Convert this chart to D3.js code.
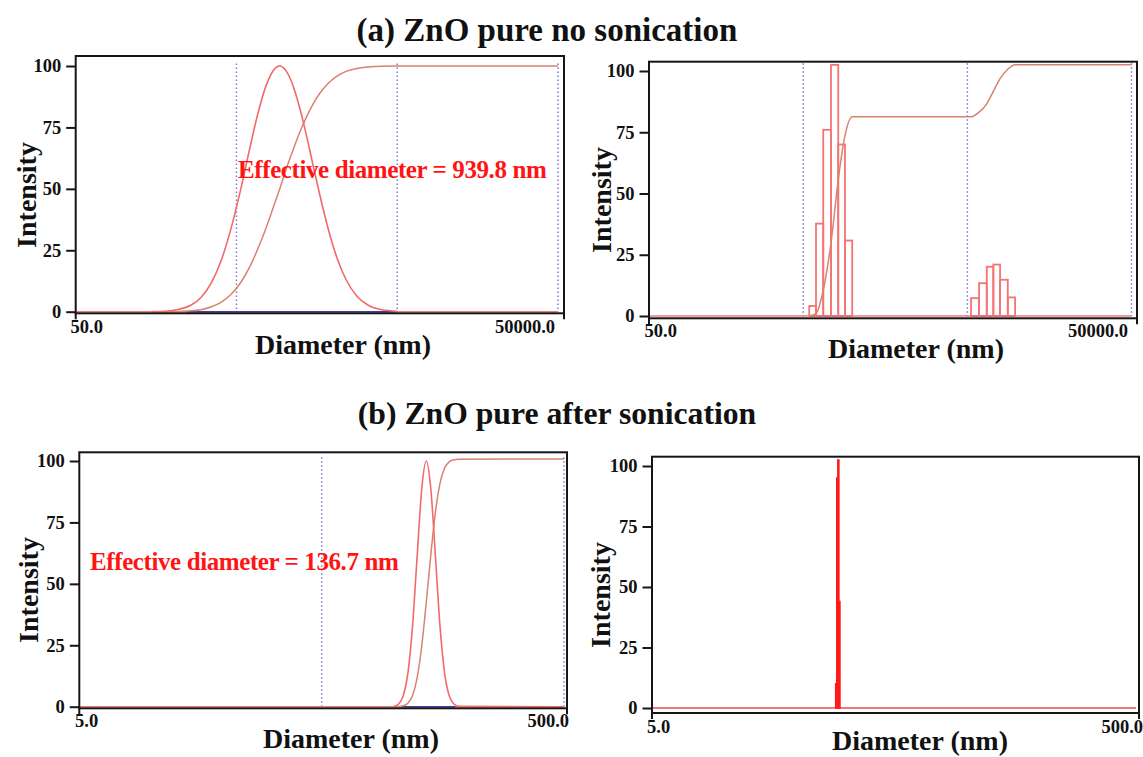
<!DOCTYPE html>
<html>
<head>
<meta charset="utf-8">
<script src="https://cdn.jsdelivr.net/npm/d3@7"></script>
<style>
  body { margin: 0; background: #fff; }
  svg text { font-family: "Liberation Serif", "Times New Roman", serif; font-weight: bold; }
</style>
</head>
<body>
<svg id="chart" width="1143" height="757"></svg>
<script>
// ---------------- data ----------------
const sectionTitles = ["(a) ZnO pure no sonication", "(b) ZnO pure after sonication"];
const yTickValues = [0, 25, 50, 75, 100];
const yAxisTitle = "Intensity";
const xAxisTitle = "Diameter (nm)";

// (a) left: intensity distribution and cumulative curve, diameter in nm
const aDomain = [50, 50000];
const aTickLabels = ["50.0", "50000.0"];
const aMarkers = [500, 5000, 50000];
const aDistDiameters = [150, 180, 220, 260, 300, 350, 400, 460, 530, 600, 680, 760, 850, 930, 1020, 1120, 1230, 1350, 1500, 1650, 1850, 2100, 2400, 2800, 3300, 4000, 5000];
const aDistIntensity = [0.1, 0.2, 1.0, 2.6, 5.7, 11.9, 20.5, 33.3, 49.5, 65.4, 80.7, 91.6, 98.3, 100, 97.9, 92.3, 83.5, 72.9, 59.4, 47.5, 34.3, 22.3, 13.1, 6.4, 2.6, 0.8, 0.2];
const aCumDiameters = [150, 200, 250, 300, 350, 400, 460, 530, 600, 680, 760, 850, 930, 1020, 1120, 1230, 1350, 1500, 1650, 1850, 2100, 2400, 2800, 3300, 4000, 5000, 50000];
const aCumulative = [0, 0.1, 0.3, 0.8, 2.0, 3.8, 6.9, 11.8, 17.8, 25.7, 33.7, 42.7, 50, 58.1, 65.5, 72.6, 78.7, 84.6, 88.9, 92.8, 95.8, 97.8, 99.0, 99.6, 99.9, 100, 100];
const aFitRange = [243, 4890];
const aEffectiveDiameter = 939.8;

// (a) right: binned intensity histogram with cumulative curve
const aBinEdgesLow = [544, 598, 662, 738, 817, 898, 994];
const aBinHeightsLow = [4.1, 37.7, 76, 102.5, 70, 30.8];
const aBinEdgesHigh = [5266, 5892, 6565, 7200, 7912, 8815, 9765];
const aBinHeightsHigh = [7.3, 13.4, 20.1, 21, 14.8, 7.6];
const aHistCumDiameters = [544, 598, 662, 738, 817, 898, 994, 5266, 5892, 6565, 7200, 7912, 8815, 9765, 50000];
const aHistCumulative = [0, 1.0, 10.5, 29.8, 55.6, 73.6, 81.3, 81.3, 83.2, 86.6, 91.7, 96.9, 100.7, 102.6, 102.6];

// (b) left: intensity distribution and cumulative curve
const bDomain = [5, 500];
const bTickLabels = ["5.0", "500.0"];
const bMarkers = [50, 500];
const bDiameters = [99.4, 103.9, 108.5, 113.4, 118.5, 123.8, 129.3, 135.1, 141.2, 147.5, 154.0, 160.9, 168.1, 175.6, 183.4, 500];
const bDistIntensity = [0.2, 1.1, 4.4, 13.5, 32.5, 60.7, 88.2, 100, 88.2, 60.7, 32.5, 13.5, 4.4, 1.1, 0.2, 0];
const bCumulative = [0, 0.07, 0.35, 1.4, 4.5, 11.6, 24.4, 42.4, 62.3, 79.4, 91.0, 97.2, 99.7, 100.5, 100.75, 100.8];
const bFitRange = [106, 178];
const bEffectiveDiameter = 136.7;

// (b) right: binned histogram (single narrow population)
const bBinEdges = [28.7, 29.0, 29.3, 29.6, 29.9];
const bBinHeights = [10, 95, 102.5, 44];

// ---------------- layout ----------------
const layouts = {
  aLeft:  { id: "aL", frame: { l: 75.7, r: 564, t: 56 },   xRange: [75.7, 558],    yZero: 311.7, yFull: 66,  axisOff: 1.6, markerTop: 101,
            yTitle: [36, 195],  xTitle: [343, 354], tickStartX: 70.5, tickEndDx: -3,  tickY: 333 },
  aRight: { id: "aR", frame: { l: 649, r: 1137, t: 61.7 }, xRange: [639.1, 1131.5], yZero: 316, yFull: 71,   axisOff: 2.3, markerTop: 103.2,
            yTitle: [611, 200], xTitle: [916, 358], tickStartX: 644.5, tickEndDx: -3.5, tickY: 337 },
  bLeft:  { id: "bL", frame: { l: 79.3, r: 567, t: 452.3 }, xRange: [79.3, 564],  yZero: 706.7, yFull: 461, axisOff: 1.6, markerTop: 101.5,
            yTitle: [38, 590],  xTitle: [351, 748], tickStartX: 75, tickEndDx: 5,    tickY: 727 },
  bRight: { id: "bR", frame: { l: 652, r: 1139, t: 456.7 }, xRange: [652, 1136],  yZero: 708, yFull: 466,   axisOff: 5, markerTop: 103,
            yTitle: [610, 595], xTitle: [920, 750], tickStartX: 647, tickEndDx: 7,    tickY: 733 }
};

const colors = {
  dist: "#f46868", cum: "#d9826f", base: "#f27878", fit: "#3a3db0",
  marker: "#7878d8", bars: "#f47474", spike: "#ff1a1a", label: "#ff1414", ink: "#161616"
};

const svg = d3.select("#chart");

// ---------------- helpers ----------------
function makePanel(L, domain) {
  const x = d3.scaleLog().domain(domain).range(L.xRange);
  const y = d3.scaleLinear().domain([0, 100]).range([L.yZero, L.yFull]);
  const clipId = "clip-" + L.id;
  svg.append("clipPath").attr("id", clipId).append("rect")
    .attr("x", L.frame.l).attr("y", L.frame.t)
    .attr("width", L.frame.r - L.frame.l)
    .attr("height", L.yZero + L.axisOff - L.frame.t);
  const g = svg.append("g");
  const plot = g.append("g").attr("clip-path", `url(#${clipId})`);
  return { g, plot, x, y, domain };
}

function drawMarkers(P, L, values) {
  P.plot.selectAll(null).data(values).enter().append("line")
    .attr("x1", d => P.x(d)).attr("x2", d => P.x(d))
    .attr("y1", P.y(L.markerTop)).attr("y2", P.y(0))
    .attr("stroke", colors.marker).attr("stroke-width", 1.5)
    .attr("stroke-dasharray", "1.5,2.5");
}

function drawBaseline(P, color, range, width) {
  P.plot.append("line")
    .attr("x1", P.x(range[0])).attr("x2", P.x(range[1]))
    .attr("y1", P.y(0)).attr("y2", P.y(0))
    .attr("stroke", color).attr("stroke-width", width);
}

function drawCurve(P, xs, ys, color, width) {
  const line = d3.line().x(d => P.x(d[0])).y(d => P.y(d[1])).curve(d3.curveMonotoneX);
  P.plot.append("path").datum(d3.zip(xs, ys))
    .attr("d", line).attr("fill", "none")
    .attr("stroke", color).attr("stroke-width", width).attr("stroke-linejoin", "round");
}

function drawBars(P, edges, heights, color, fill, width) {
  P.plot.selectAll(null).data(heights).enter().append("rect")
    .attr("x", (d, i) => P.x(edges[i]))
    .attr("width", (d, i) => P.x(edges[i + 1]) - P.x(edges[i]))
    .attr("y", d => P.y(d))
    .attr("height", d => P.y(0) - P.y(d))
    .attr("fill", fill).attr("stroke", color).attr("stroke-width", width);
}

function drawAxes(P, L, tickLabels) {
  const axisY = L.yZero + L.axisOff;
  // frame
  P.g.append("rect")
    .attr("x", L.frame.l).attr("y", L.frame.t)
    .attr("width", L.frame.r - L.frame.l).attr("height", axisY - L.frame.t)
    .attr("fill", "none").attr("stroke", colors.ink).attr("stroke-width", 2);
  // end ticks below the diameter axis
  [L.frame.l, L.frame.r].forEach(xp => {
    P.g.append("line").attr("x1", xp).attr("x2", xp).attr("y1", axisY).attr("y2", axisY + 6)
      .attr("stroke", colors.ink).attr("stroke-width", 2);
  });
  // intensity axis
  const ax = d3.axisLeft(P.y).tickValues(yTickValues).tickSize(9.5).tickPadding(5).tickFormat(d3.format("d"));
  const ga = P.g.append("g").attr("transform", `translate(${L.frame.l},0)`).call(ax);
  ga.select(".domain").remove();
  ga.selectAll(".tick line").attr("stroke", colors.ink).attr("stroke-width", 2);
  ga.selectAll(".tick text")
    .attr("font-family", '"Liberation Serif","Times New Roman",serif')
    .attr("font-weight", "bold").attr("font-size", 18.5).attr("fill", "#111");
  // diameter axis end labels
  P.g.append("text").attr("x", L.tickStartX).attr("y", L.tickY)
    .attr("font-size", 18.5).attr("fill", "#111").text(tickLabels[0]);
  P.g.append("text").attr("x", P.x(P.domain[1]) + L.tickEndDx).attr("y", L.tickY)
    .attr("text-anchor", "end").attr("font-size", 18.5).attr("fill", "#111").text(tickLabels[1]);
  // axis titles
  P.g.append("text")
    .attr("transform", `translate(${L.yTitle[0]},${L.yTitle[1]}) rotate(-90)`)
    .attr("text-anchor", "middle").attr("font-size", 28).attr("fill", "#111").text(yAxisTitle);
  P.g.append("text").attr("x", L.xTitle[0]).attr("y", L.xTitle[1])
    .attr("text-anchor", "middle").attr("font-size", 28).attr("fill", "#111").text(xAxisTitle);
}

// ---------------- section titles ----------------
svg.append("text").attr("x", 547).attr("y", 41).attr("text-anchor", "middle")
  .attr("font-size", 33).attr("fill", "#111").text(sectionTitles[0]);
svg.append("text").attr("x", 557).attr("y", 424).attr("text-anchor", "middle")
  .attr("font-size", 31.7).attr("fill", "#111").text(sectionTitles[1]);

// ---------------- (a) left ----------------
{
  const L = layouts.aLeft;
  const P = makePanel(L, aDomain);
  drawMarkers(P, L, aMarkers);
  drawBaseline(P, colors.base, aDomain, 1.6);
  drawBaseline(P, colors.fit, aFitRange, 1.6);
  drawCurve(P, aCumDiameters, aCumulative, colors.cum, 1.5);
  drawCurve(P, aDistDiameters, aDistIntensity, colors.dist, 1.6);
  drawAxes(P, L, aTickLabels);
  P.g.append("text").attr("x", 238).attr("y", 178)
    .attr("font-size", 25).attr("fill", colors.label).attr("letter-spacing", -0.4)
    .text(`Effective diameter = ${aEffectiveDiameter} nm`);
}

// ---------------- (a) right ----------------
{
  const L = layouts.aRight;
  const P = makePanel(L, aDomain);
  drawMarkers(P, L, aMarkers);
  drawBaseline(P, colors.base, aDomain, 1.6);
  drawBaseline(P, colors.fit, [aBinEdgesLow[0], aBinEdgesLow[aBinEdgesLow.length - 1]], 1.4);
  drawBaseline(P, colors.fit, [aBinEdgesHigh[0], aBinEdgesHigh[aBinEdgesHigh.length - 1]], 1.4);
  drawBars(P, aBinEdgesLow, aBinHeightsLow, colors.bars, "none", 1.8);
  drawBars(P, aBinEdgesHigh, aBinHeightsHigh, colors.bars, "none", 1.8);
  drawCurve(P, aHistCumDiameters, aHistCumulative, colors.cum, 1.5);
  drawAxes(P, L, aTickLabels);
}

// ---------------- (b) left ----------------
{
  const L = layouts.bLeft;
  const P = makePanel(L, bDomain);
  drawMarkers(P, L, bMarkers);
  drawBaseline(P, colors.base, bDomain, 1.6);
  drawBaseline(P, colors.fit, bFitRange, 1.6);
  drawCurve(P, bDiameters, bCumulative, colors.cum, 1.5);
  drawCurve(P, bDiameters, bDistIntensity, colors.dist, 1.6);
  drawAxes(P, L, bTickLabels);
  P.g.append("text").attr("x", 90).attr("y", 570)
    .attr("font-size", 25).attr("fill", colors.label).attr("letter-spacing", -0.4)
    .text(`Effective diameter = ${bEffectiveDiameter} nm`);
}

// ---------------- (b) right ----------------
{
  const L = layouts.bRight;
  const P = makePanel(L, bDomain);
  drawBaseline(P, colors.base, bDomain, 1.8);
  drawBars(P, bBinEdges, bBinHeights, colors.spike, colors.spike, 1.5);
  drawAxes(P, L, bTickLabels);
}
</script>
</body>
</html>
